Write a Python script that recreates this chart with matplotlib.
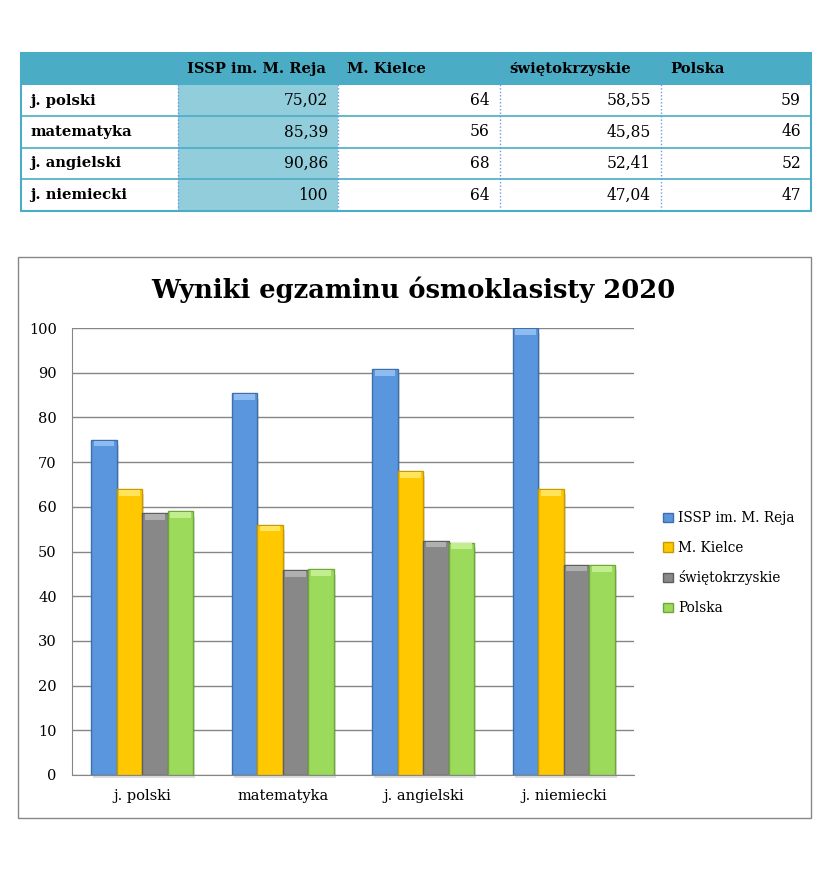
import matplotlib
matplotlib.use("Agg")
import matplotlib.pyplot as plt
from matplotlib.patches import Rectangle
import numpy as np

plt.rcParams['font.family'] = ['DejaVu Serif']

subjects = ["j. polski", "matematyka", "j. angielski", "j. niemiecki"]
table_rows = ["j. polski", "matematyka", "j. angielski", "j. niemiecki"]
series = ["ISSP im. M. Reja", "M. Kielce", "świętokrzyskie", "Polska"]
issp = [75.02, 85.39, 90.86, 100]
kielce = [64, 56, 68, 64]
swiet = [58.55, 45.85, 52.41, 47.04]
polska = [59, 46, 52, 47]
issp_txt = ["75,02", "85,39", "90,86", "100"]
kielce_txt = ["64", "56", "68", "64"]
swiet_txt = ["58,55", "45,85", "52,41", "47,04"]
polska_txt = ["59", "46", "52", "47"]

colors = ["#5A96DD", "#FFC800", "#888888", "#9BDA5A"]
edges = ["#3F6FA8", "#C99A00", "#5E5E5E", "#6FA83A"]
caps = ["#8FBCF0", "#FFE45C", "#B0B0B0", "#C2EE90"]

W, H = 834, 876
fig = plt.figure(figsize=(W / 100, H / 100), dpi=100)

# overlay axes in pixel coords for the table and the chart frame
ov = fig.add_axes([0, 0, 1, 1])
ov.set_xlim(0, W); ov.set_ylim(H, 0); ov.axis("off")

# ---- table ----
col_x = [21, 178, 338, 500, 661, 811]
row_y = [53, 85, 116, 148, 179, 211]
hdr = "#4BACC6"
ov.add_patch(Rectangle((col_x[0], row_y[0]), col_x[-1] - col_x[0], row_y[1] - row_y[0],
                       facecolor=hdr, edgecolor="none"))
ov.add_patch(Rectangle((col_x[1], row_y[1]), col_x[2] - col_x[1], row_y[-1] - row_y[1],
                       facecolor="#92CDDC", edgecolor="none"))
for y in row_y[2:-1]:
    ov.plot([col_x[0], col_x[-1]], [y, y], color=hdr, lw=1.2)
ov.add_patch(Rectangle((col_x[0], row_y[0]), col_x[-1] - col_x[0], row_y[-1] - row_y[0],
                       facecolor="none", edgecolor=hdr, lw=1.5))
for x in col_x[1:-1]:
    ov.plot([x, x], [row_y[0], row_y[-1]], color="#6C9BE0", lw=1, ls=(0, (1, 1.5)))

tfs = 10.6
for j, name in enumerate(series):
    ov.text(col_x[j + 1] + 9, (row_y[0] + row_y[1]) / 2, name, fontsize=tfs,
            fontweight="bold", va="center", ha="left")
cols = [issp_txt, kielce_txt, swiet_txt, polska_txt]
for i, lab in enumerate(table_rows):
    yc = (row_y[i + 1] + row_y[i + 2]) / 2
    ov.text(col_x[0] + 9, yc, lab, fontsize=tfs, fontweight="bold", va="center", ha="left")
    for j, c in enumerate(cols):
        ov.text(col_x[j + 2] - 10, yc, c[i], fontsize=tfs + 0.6, va="center", ha="right")

# ---- chart frame ----
ov.add_patch(Rectangle((18, 257), 811 - 18, 818 - 257, facecolor="none",
                       edgecolor="#888888", lw=1))
ov.text(413, 290, "Wyniki egzaminu ósmoklasisty 2020", fontsize=18.5,
        fontweight="bold", ha="center", va="center")

# ---- bar chart ----
ax = fig.add_axes([72 / W, 101 / H, 562 / W, 447 / H])
ax.set_zorder(2)
ax.patch.set_alpha(0)
x = np.arange(len(subjects))
bw = 0.182
vals = [issp, kielce, swiet, polska]
for k, (v, c, e, cp, name) in enumerate(zip(vals, colors, edges, caps, series)):
    pos = x + (k - 1.5) * bw
    v = np.array(v)
    # soft shadow
    ax.bar(pos + 0.014, v - 0.6, bw, bottom=-0.6, color="#000000", alpha=0.13,
           zorder=2, lw=0, clip_on=False)
    ax.bar(pos, v, bw, color=c, edgecolor=e, lw=1, zorder=3, label=name)
    # light bevel at the top of each bar
    ax.bar(pos, 1.3, bw * 0.8, bottom=v - 1.5, color=cp, lw=0, zorder=4)

ax.set_ylim(0, 100)
ax.set_xlim(-0.5, 3.5)
ax.set_yticks(range(0, 101, 10))
ax.yaxis.grid(True, color="#868686", lw=1)
ax.set_axisbelow(True)
ax.set_xticks(x)
ax.set_xticklabels(subjects, fontsize=10.5)
ax.tick_params(axis="y", labelsize=10.5, length=0, pad=11)
ax.tick_params(axis="x", length=0, pad=10)
for s in ["top", "right"]:
    ax.spines[s].set_visible(False)
for s in ["left", "bottom"]:
    ax.spines[s].set_color("#868686")

leg = ax.legend(loc="center left", bbox_to_anchor=(1.03, 0.474), frameon=False,
                fontsize=9.8, handlelength=0.7, handleheight=0.7, handletextpad=0.4,
                labelspacing=1.15)

fig.savefig("out.png", dpi=100)
